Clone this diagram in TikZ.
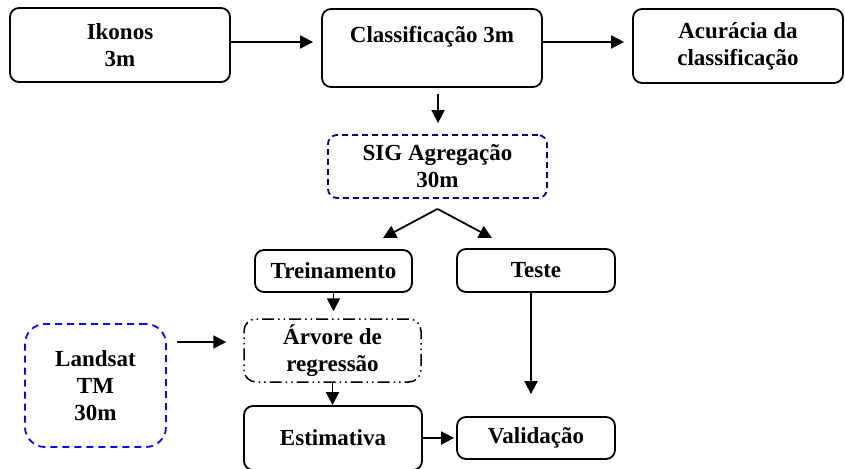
\documentclass[tikz,border=0pt]{standalone}
\usepackage{fontspec}
\setmainfont{Liberation Serif}
\usetikzlibrary{arrows.meta,calc}
\definecolor{azulescuro}{RGB}{0,0,128}
\definecolor{azul}{RGB}{10,10,250}
\tikzset{
	seta/.style={-{Triangle[length=13pt,width=13pt]},line width=1.8pt}
}

\begin{document}
\begin{tikzpicture}[x=1pt,y=-1pt,font=\bfseries\fontsize{23}{27}\selectfont]
  \useasboundingbox (0,0) rectangle (845,468);
    \tikzstyle{caixa}=[draw=black,line width=1.8pt,rounded corners=9pt,align=center,inner sep=0pt]
    \tikzstyle{caixa_sig}=[caixa,draw=azulescuro,dash pattern=on 6pt off 4pt]
    \tikzstyle{caixa_tm}=[caixa,draw=azul,rounded corners=20pt,dash pattern=on 7pt off 5pt]
    \tikzstyle{caixa_arv}=[caixa,line width=1.5pt,rounded corners=12pt,dash pattern=on 12pt off 4pt on 1.5pt off 4pt on 1.5pt off 4pt]

  \node[caixa,minimum width=220pt,minimum height=74pt] (ikonos) at (120,45) {Ikonos\\3m};
  \node[caixa,minimum width=220pt,minimum height=78pt] (classif) at (432,48) {Classificação 3m\\~};
  \node[caixa,minimum width=210pt,minimum height=74pt] (acuracia) at (738,46) {Acurácia da\\classificação};
  \node[caixa_sig,minimum width=219pt,minimum height=63pt] (sig) at (437.5,166.5) {SIG Agregação\\30m};
  \node[caixa,minimum width=157pt,minimum height=42pt] (treino) at (333.5,271) {Treinamento};
  \node[caixa,minimum width=158pt,minimum height=43pt] (teste) at (536,270.5) {Teste};
  \node[caixa_tm,minimum width=141pt,minimum height=123pt] (landsat) at (95.5,385.5) {Landsat\\TM\\30m};
  \node[caixa_arv,minimum width=177pt,minimum height=63pt] (arvore) at (332.5,350.5) {Árvore de\\regressão};
  \node[caixa,minimum width=178pt,minimum height=64pt] (estim) at (333,438) {Estimativa};
  \node[caixa,minimum width=158pt,minimum height=42pt] (valid) at (536,438) {Validação};

    \coordinate (div) at ([yshift=-10pt]sig.south);
    \coordinate (divE) at (383,238);
    \coordinate (divD) at (492,238);
    \coordinate (nivel) at (0,342);

\draw[seta,shorten >=8pt] ([yshift=3pt]ikonos.east) -- ([yshift=3pt]classif.west |- ikonos.east);
\draw[seta,shorten >=8pt] ([yshift=3pt]classif.east |- ikonos.east) -- ([yshift=3pt]acuracia.west |- ikonos.east);
\draw[seta,shorten <=6pt,shorten >=11pt] ([xshift=6pt]classif.south) -- ([xshift=6pt]classif.south |- sig.north);
\draw[seta] (div) -- (divE);
\draw[seta] (div) -- (divD);
\draw[seta,shorten >=7pt] (treino.south) -- (treino.south |- arvore.north);
\draw[seta,shorten <=10pt,shorten >=17pt] (landsat.east |- nivel) -- (arvore.west |- nivel);
\draw[seta] (arvore.south) -- (arvore.south |- estim.north);
\draw[seta,shorten >=22pt] ([xshift=-5pt]teste.south) -- ([xshift=-5pt]valid.north);
\draw[seta,shorten >=2pt] (estim.east |- valid.west) -- (valid.west);
    \end{tikzpicture}
\end{document}
